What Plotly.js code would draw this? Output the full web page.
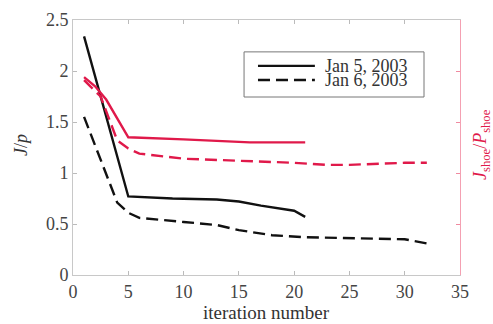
<!DOCTYPE html>
<html>
<head>
<meta charset="utf-8">
<script src="https://cdn.plot.ly/plotly-3.0.1.min.js"></script>
<style>html,body{margin:0;padding:0;background:#fff;}#chart{width:493px;height:324px;}</style>
</head>
<body>
<div id="chart"></div>
<script>
// Jan 5, 2003 (black solid) – J/p
const jan5X = [1, 5, 9, 13, 15, 17, 20, 21];
const jan5Y = [2.34, 0.77, 0.75, 0.74, 0.72, 0.68, 0.63, 0.57];
// Jan 6, 2003 (black dashed) – J/p
const jan6X = [1, 4, 5, 6, 10, 13, 15, 18, 21, 25, 30, 32];
const jan6Y = [1.55, 0.71, 0.61, 0.56, 0.52, 0.49, 0.44, 0.39, 0.37, 0.36, 0.35, 0.31];
// Jan 5, 2003 (red solid) – J_shoe/P_shoe
const jan5rX = [1, 2, 3, 5, 10, 16, 21];
const jan5rY = [1.94, 1.85, 1.72, 1.35, 1.33, 1.30, 1.30];
// Jan 6, 2003 (red dashed) – J_shoe/P_shoe
const jan6rX = [1, 2.5, 4, 5, 6, 10, 15, 20, 23, 25, 30, 32];
const jan6rY = [1.91, 1.75, 1.32, 1.24, 1.19, 1.14, 1.12, 1.10, 1.08, 1.08, 1.10, 1.10];

const xTicks = [0, 5, 10, 15, 20, 25, 30, 35];
const yTicks = [0, 0.5, 1, 1.5, 2, 2.5];
const yTickText = ['0', '0.5', '1', '1.5', '2', '2.5'];
const legendLabels = ['Jan 5, 2003', 'Jan 6, 2003'];

const BLACK = '#111111';
const RED = '#e0194a';
const FONT = '"Liberation Serif", "Times New Roman", serif';

const traces = [
  {x: jan5X, y: jan5Y, mode: 'lines', line: {color: BLACK, width: 2.4}, name: legendLabels[0]},
  {x: jan6X, y: jan6Y, mode: 'lines', line: {color: BLACK, width: 2.4, dash: '12px,6px'}, name: legendLabels[1]},
  {x: jan5rX, y: jan5rY, mode: 'lines', line: {color: RED, width: 2.4}, yaxis: 'y2', name: 'r5'},
  {x: jan6rX, y: jan6rY, mode: 'lines', line: {color: RED, width: 2.4, dash: '12px,6px'}, yaxis: 'y2', name: 'r6'}
];

const L = {x0: 0.442, x1: 0.907, y0: 0.698, y1: 0.875, lx0: 0.478, lx1: 0.625, ly: [0.820, 0.765], tx: 0.646};

const layout = {
  width: 493, height: 324,
  margin: {l: 73, r: 33, t: 20, b: 49},
  paper_bgcolor: '#fff', plot_bgcolor: '#fff',
  showlegend: false,
  font: {family: FONT, size: 17, color: '#444'},
  xaxis: {
    range: [0, 35], tickvals: xTicks, ticktext: xTicks.map(String),
    ticks: 'inside', ticklen: 4, tickcolor: '#bbb', showgrid: false, zeroline: false,
    showline: true, linecolor: '#c8c8c8', linewidth: 1, mirror: 'ticks',
    tickfont: {family: FONT, size: 18, color: '#444'}
  },
  yaxis: {
    range: [0, 2.5], tickvals: yTicks, ticktext: yTickText,
    ticks: 'inside', ticklen: 4, tickcolor: '#bbb', showgrid: false, zeroline: false,
    showline: true, linecolor: '#c8c8c8', linewidth: 1, mirror: true,
    tickfont: {family: FONT, size: 18, color: '#444'}
  },
  yaxis2: {
    overlaying: 'y', side: 'right', range: [0, 2.5], tickvals: yTicks,
    showticklabels: false, ticks: 'inside', ticklen: 4, tickcolor: '#f08aa0',
    showgrid: false, zeroline: false, showline: true, linecolor: '#f4a0b2', linewidth: 1
  },
  annotations: [
    {xref: 'paper', yref: 'paper', x: 0.5, y: 0, yshift: -37, text: 'iteration number', showarrow: false,
     font: {family: FONT, size: 19, color: '#333'}, xanchor: 'center', yanchor: 'middle'},
    {xref: 'paper', yref: 'paper', x: 0, xshift: -52, y: 0.51, text: '<i>J</i>/<i>p</i>', showarrow: false, textangle: -90,
     font: {family: FONT, size: 18, color: '#333'}, xanchor: 'center', yanchor: 'middle'},
    {xref: 'paper', yref: 'paper', x: 1, xshift: 22, y: 0.51, text: '<i>J</i><sub>shoe</sub>/<i>P</i><sub>shoe</sub>', showarrow: false, textangle: -90,
     font: {family: FONT, size: 18, color: RED}, xanchor: 'center', yanchor: 'middle'},
    {xref: 'paper', yref: 'paper', x: L.tx, y: L.ly[0], text: legendLabels[0], showarrow: false,
     font: {family: FONT, size: 18, color: '#333'}, xanchor: 'left', yanchor: 'middle'},
    {xref: 'paper', yref: 'paper', x: L.tx, y: L.ly[1], text: legendLabels[1], showarrow: false,
     font: {family: FONT, size: 18, color: '#333'}, xanchor: 'left', yanchor: 'middle'}
  ],
  shapes: [
    {type: 'rect', xref: 'paper', yref: 'paper', x0: L.x0, x1: L.x1, y0: L.y0, y1: L.y1,
     line: {color: '#777', width: 1}, fillcolor: 'rgba(0,0,0,0)'},
    {type: 'line', xref: 'paper', yref: 'paper', x0: L.lx0, x1: L.lx1, y0: L.ly[0], y1: L.ly[0],
     line: {color: BLACK, width: 2.4}},
    {type: 'line', xref: 'paper', yref: 'paper', x0: L.lx0, x1: L.lx1, y0: L.ly[1], y1: L.ly[1],
     line: {color: BLACK, width: 2.4, dash: '12px,6px'}}
  ]
};

Plotly.newPlot('chart', traces, layout, {displayModeBar: false, staticPlot: true});
</script>
</body>
</html>
